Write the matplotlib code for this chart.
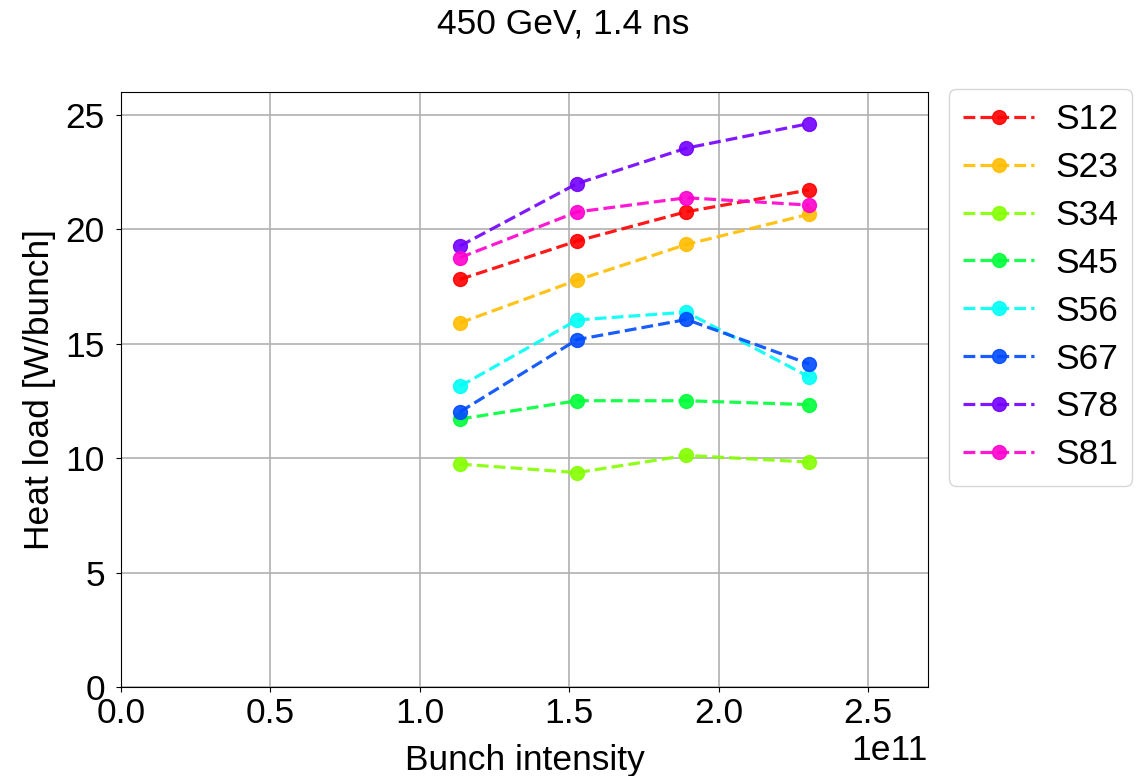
import numpy as np
import matplotlib
matplotlib.use("Agg")
import matplotlib.pyplot as plt

plt.rcParams['font.family'] = ['Liberation Sans', 'DejaVu Sans']
plt.rcParams['font.size'] = 25.5

# bunch intensities (p/bunch)
intensity = [1.134e11, 1.526e11, 1.892e11, 2.302e11]

sectors = ['S12', 'S23', 'S34', 'S45', 'S56', 'S67', 'S78', 'S81']
s12 = [17.81, 19.49, 20.77, 21.72]
s23 = [15.91, 17.78, 19.34, 20.66]
s34 = [9.74, 9.37, 10.12, 9.83]
s45 = [11.71, 12.51, 12.51, 12.34]
s56 = [13.14, 16.04, 16.38, 13.55]
s67 = [12.02, 15.18, 16.06, 14.12]
s78 = [19.27, 22.00, 23.55, 24.62]
s81 = [18.76, 20.76, 21.38, 21.06]
heat = [s12, s23, s34, s45, s56, s67, s78, s81]

fig = plt.figure(figsize=(11.4, 7.76), dpi=100)
ax = fig.add_axes([0.1061, 0.1147, 0.7079, 0.7667])

for i, (name, vals) in enumerate(zip(sectors, heat)):
    col = plt.cm.hsv(i / len(sectors))
    ax.plot(intensity, vals, '.--', color=col, label=name,
            markersize=20, linewidth=2.3, alpha=0.9)

ax.set_xlim(0, 2.7e11)
ax.set_ylim(0, 26)
ax.grid(True, color='#b0b0b0', linewidth=1.2)
ax.set_axisbelow(True)
ax.tick_params(labelsize=25.5)
ax.tick_params(axis='y', pad=8)
ax.set_xlabel('Bunch intensity', labelpad=10)
ax.set_ylabel('Heat load [W/bunch]', labelpad=7)
ax.legend(loc='upper left', bbox_to_anchor=(1.026, 1.005), borderaxespad=0.,
          labelspacing=0.42, handletextpad=0.6, fontsize=25.5)

fig.suptitle('450 GeV, 1.4 ns', fontsize=25.5, y=0.99, x=0.494)
fig.text(0.077, 1.013, 'sets', fontsize=25.5, ha='right', va='center')

fig.savefig('out.png', dpi=100)
